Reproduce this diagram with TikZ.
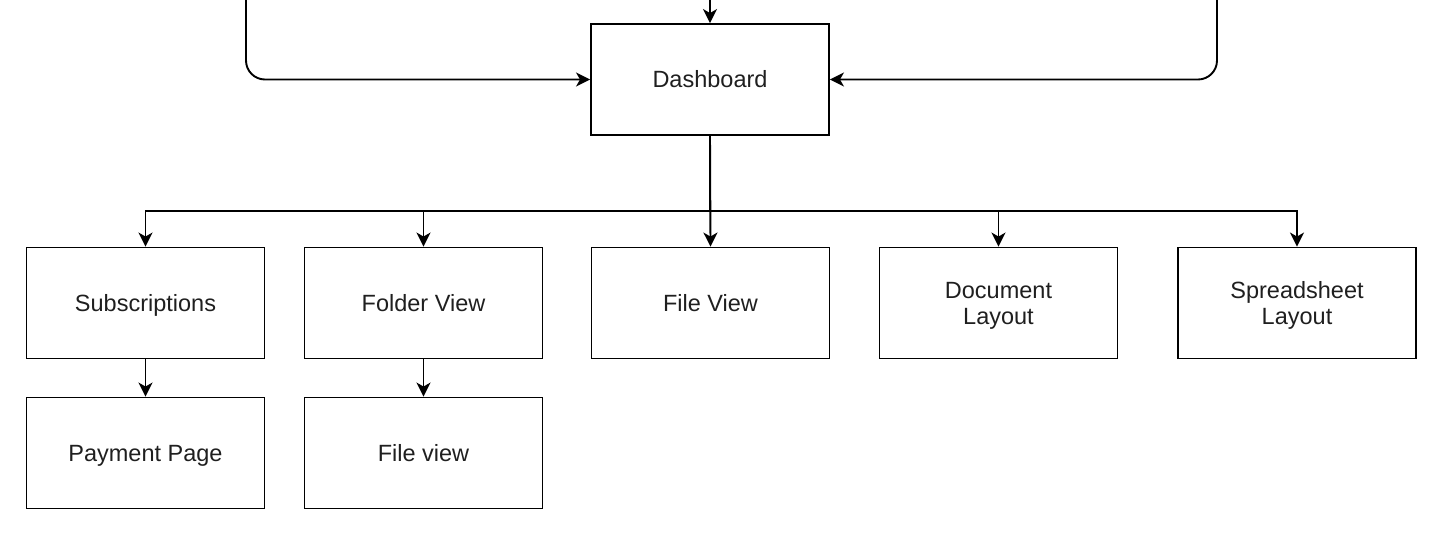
\documentclass[tikz,border=0pt]{standalone}
\usepackage{fontspec}
\setmainfont{Liberation Sans}
\usetikzlibrary{arrows.meta}
\begin{document}
\begin{tikzpicture}[x=1pt,y=-1pt,
  box/.style={draw=black, line width=1.9pt, minimum width=238pt, minimum height=111pt, inner sep=0pt, align=center, font=\fontsize{23.5}{26}\selectfont, text=black!88, text height=16.8pt, text depth=0pt},
  twoline/.style={text height=43.6pt, text depth=0pt},
  arr/.style={draw=black, line width=1.9pt, -{Stealth[length=14pt,width=14pt,inset=4pt]}}]
\useasboundingbox (0,0) rectangle (1432,550);
\node[box] (dash) at (710,79.5) {Dashboard};
\node[box] (subs) at (145.5,303) {Subscriptions};
\node[box] (fold) at (423.5,303) {Folder View};
\node[box] (file) at (710.5,303) {File View};
\node[box,twoline] (doc) at (998.5,303) {Document\\Layout};
\node[box,twoline] (sheet) at (1297,303) {Spreadsheet\\Layout};
\node[box] (pay) at (145.5,453) {Payment Page};
\node[box] (fv) at (423.5,453) {File view};
\coordinate (tl) at (246,0);
\coordinate (tm) at (710,0);
\coordinate (tr) at (1217,0);
\draw[arr, rounded corners=19pt] (tl) |- (dash.west);
\draw[arr, rounded corners=19pt] (tr) |- (dash.east);
\draw[arr] (tm) -- (dash.north);
\draw[arr] (dash.south) -- (file.north);
\draw[arr] (dash.south) -- ++(0,75) -| (subs.north);
\draw[arr] (dash.south) -- ++(0,75) -| (fold.north);
\draw[arr] (dash.south) -- ++(0,75) -| (doc.north);
\draw[arr] (dash.south) -- ++(0,75) -| (sheet.north);
\draw[arr] (subs.south) -- (pay.north);
\draw[arr] (fold.south) -- (fv.north);
\end{tikzpicture}
\end{document}
